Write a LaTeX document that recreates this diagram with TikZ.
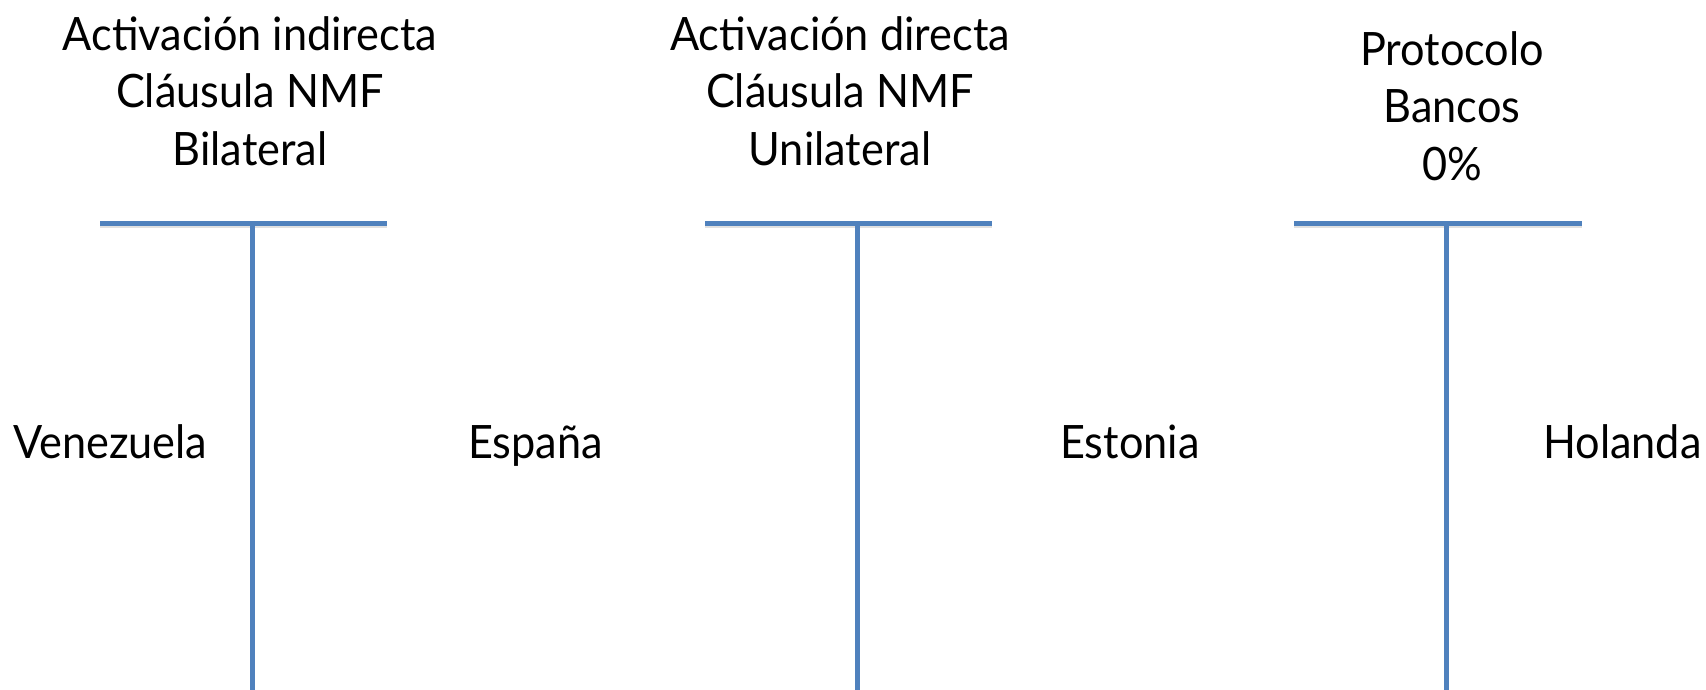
\documentclass[tikz,border=0pt]{standalone}
\usepackage{fontspec}
\setmainfont{Lato}[FakeStretch=0.94]
\usetikzlibrary{positioning}

\definecolor{tblue}{HTML}{4F81BD}

\tikzset{
  bar/.style={draw=tblue, line width=5pt},
  barshadow/.style={draw=black!12, line width=4pt},
  label/.style={inner sep=0pt, font=\fontsize{46}{57.5}\selectfont},
  head/.style={label, align=center, anchor=base}
}

\begin{document}
\begin{tikzpicture}[x=1pt,y=-1pt]
  \useasboundingbox (0,0) rectangle (1706,690);
  % headings (base = last line)
  \node[head] (h1) at (250,165) {Activación indirecta\\Cláusula NMF\\Bilateral};
  \node[head] (h2) at (840,165) {Activación directa\\Cláusula NMF\\Unilateral};
  \node[head] (h3) at (1452,180) {Protocolo\\Bancos\\0\%};
  % bars
  \foreach \n/\l/\r/\m in {1/100/387/252, 2/705/992/857, 3/1294/1582/1446}{
    \coordinate (l\n) at (\l,223);
    \coordinate (r\n) at (\r,223);
    \coordinate (m\n) at (\m,223);
    \coordinate (b\n) at (\m,692);
    \draw[barshadow] ([yshift=-3pt]l\n) -- ([yshift=-3pt]r\n);
    \draw[bar] (l\n) -- (r\n);
    \draw[bar] (m\n) -- (b\n);
  }
  % countries
  \node[label, anchor=base west] (venezuela) at (13,458) {Venezuela};
  \node[label, anchor=base west] (espana) at (468,458) {España};
  \node[label, anchor=base west] (estonia) at (1060,458) {Estonia};
  \node[label, anchor=base west] (holanda) at (1543,458) {Holanda};
\end{tikzpicture}
\end{document}
